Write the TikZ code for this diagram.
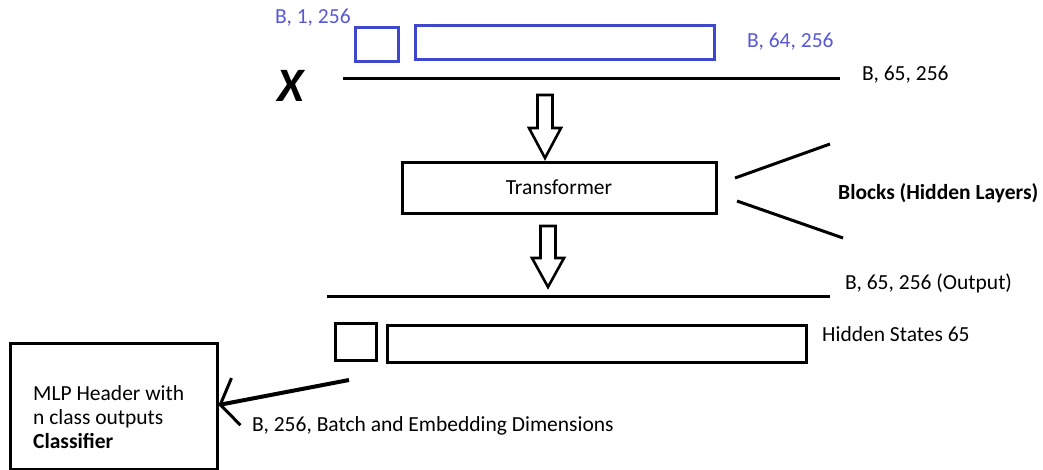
\documentclass[tikz,border=0pt]{standalone}
\usepackage{fontspec}
\setmainfont{Carlito}
\usetikzlibrary{arrows.meta,positioning,calc}
\definecolor{paintblue}{RGB}{63,72,204}
\definecolor{labelblue}{RGB}{88,88,214}
\tikzset{
  box/.style    ={draw,line width=3pt,inner sep=0pt},
  bluebox/.style={box,draw=paintblue},
  bar/.style    ={line width=3pt},
  hollow/.style ={line width=2.6pt,line join=miter},
  wedge/.style  ={line width=3pt},
  txt/.style    ={font=\fontsize{21.5}{24}\selectfont,inner sep=0pt,anchor=west},
  bluetxt/.style={txt,text=labelblue},
  head/.style   ={-{Straight Barb[length=16pt,width=48pt,line width=3pt]},line width=4pt},
}
\begin{document}
\begin{tikzpicture}[x=1pt,y=-1pt]
  \useasboundingbox (0,0) rectangle (1043,469);
  % input tokens
  \node[bluetxt] (clslbl) at (275,18) {B, 1, 256};
  \node[bluebox,minimum width=43pt,minimum height=34pt] (cls) at (376.5,44) {};
  \node[bluebox,minimum width=299pt,minimum height=34pt] (patches) at (564.5,42) {};
  \node[bluetxt] (patchlbl) at (747,42) {B, 64, 256};
  \node[font=\fontsize{48}{48}\selectfont\bfseries\itshape,inner sep=0pt] (xin) at (291,86) {X};
  \coordinate (inL) at (343,78);
  \coordinate (inR) at (840,78);
  \draw[bar] (inL) -- (inR);
  \node[txt] (inlbl) at (862,75) {B, 65, 256};
  % transformer
  \node[box,minimum width=314pt,minimum height=51pt,font=\fontsize{21.5}{24}\selectfont] (trf) at (559,187.5) {Transformer};
  \draw[hollow] (545,95) -- ++(-7.5,0) -- ++(0,33) -- ++(-8.5,0) -- (545,158)
    -- ++(16,-30) -- ++(-8.5,0) -- ++(0,-33) -- cycle;
  \coordinate (w1a) at (735,178);
  \coordinate (w1b) at (830,144);
  \coordinate (w2a) at (737,201);
  \coordinate (w2b) at (843,238);
  \draw[wedge] (w1a) -- (w1b);
  \draw[wedge] (w2a) -- (w2b);
  \node[txt,font=\fontsize{21.5}{24}\selectfont\bfseries] (blocks) at (838,193) {Blocks (Hidden Layers)};
  \draw[hollow] (548,226) -- ++(-7.5,0) -- ++(0,32) -- ++(-8.5,0) -- (548,287)
    -- ++(16,-29) -- ++(-8.5,0) -- ++(0,-32) -- cycle;
  % output
  \coordinate (outL) at (327,296);
  \coordinate (outR) at (830,296);
  \draw[bar] (outL) -- (outR);
  \node[txt] (outlbl) at (845,283) {B, 65, 256 (Output)};
  \node[box,minimum width=41pt,minimum height=37pt] (clsout) at (355.5,341.5) {};
  \node[box,minimum width=419pt,minimum height=37pt] (hidden) at (596.5,343.5) {};
  \node[txt] (hidlbl) at (822,334) {Hidden States 65};
  % classifier
  \node[box,minimum width=207pt,minimum height=126pt] (mlp) at (113.5,406) {};
  \node[txt,align=left,font=\fontsize{21.5}{24}\selectfont] (mlptxt) at (33,417)
    {MLP Header with\\n class outputs\\\textbf{Classifier}};
  \coordinate (clsfrom) at (349,380);
  \draw[head] (clsfrom) -- (mlp.east |- 0,405);
  \node[txt] (clslbl2) at (252,426) {B, 256, Batch and Embedding Dimensions};
\end{tikzpicture}
\end{document}
